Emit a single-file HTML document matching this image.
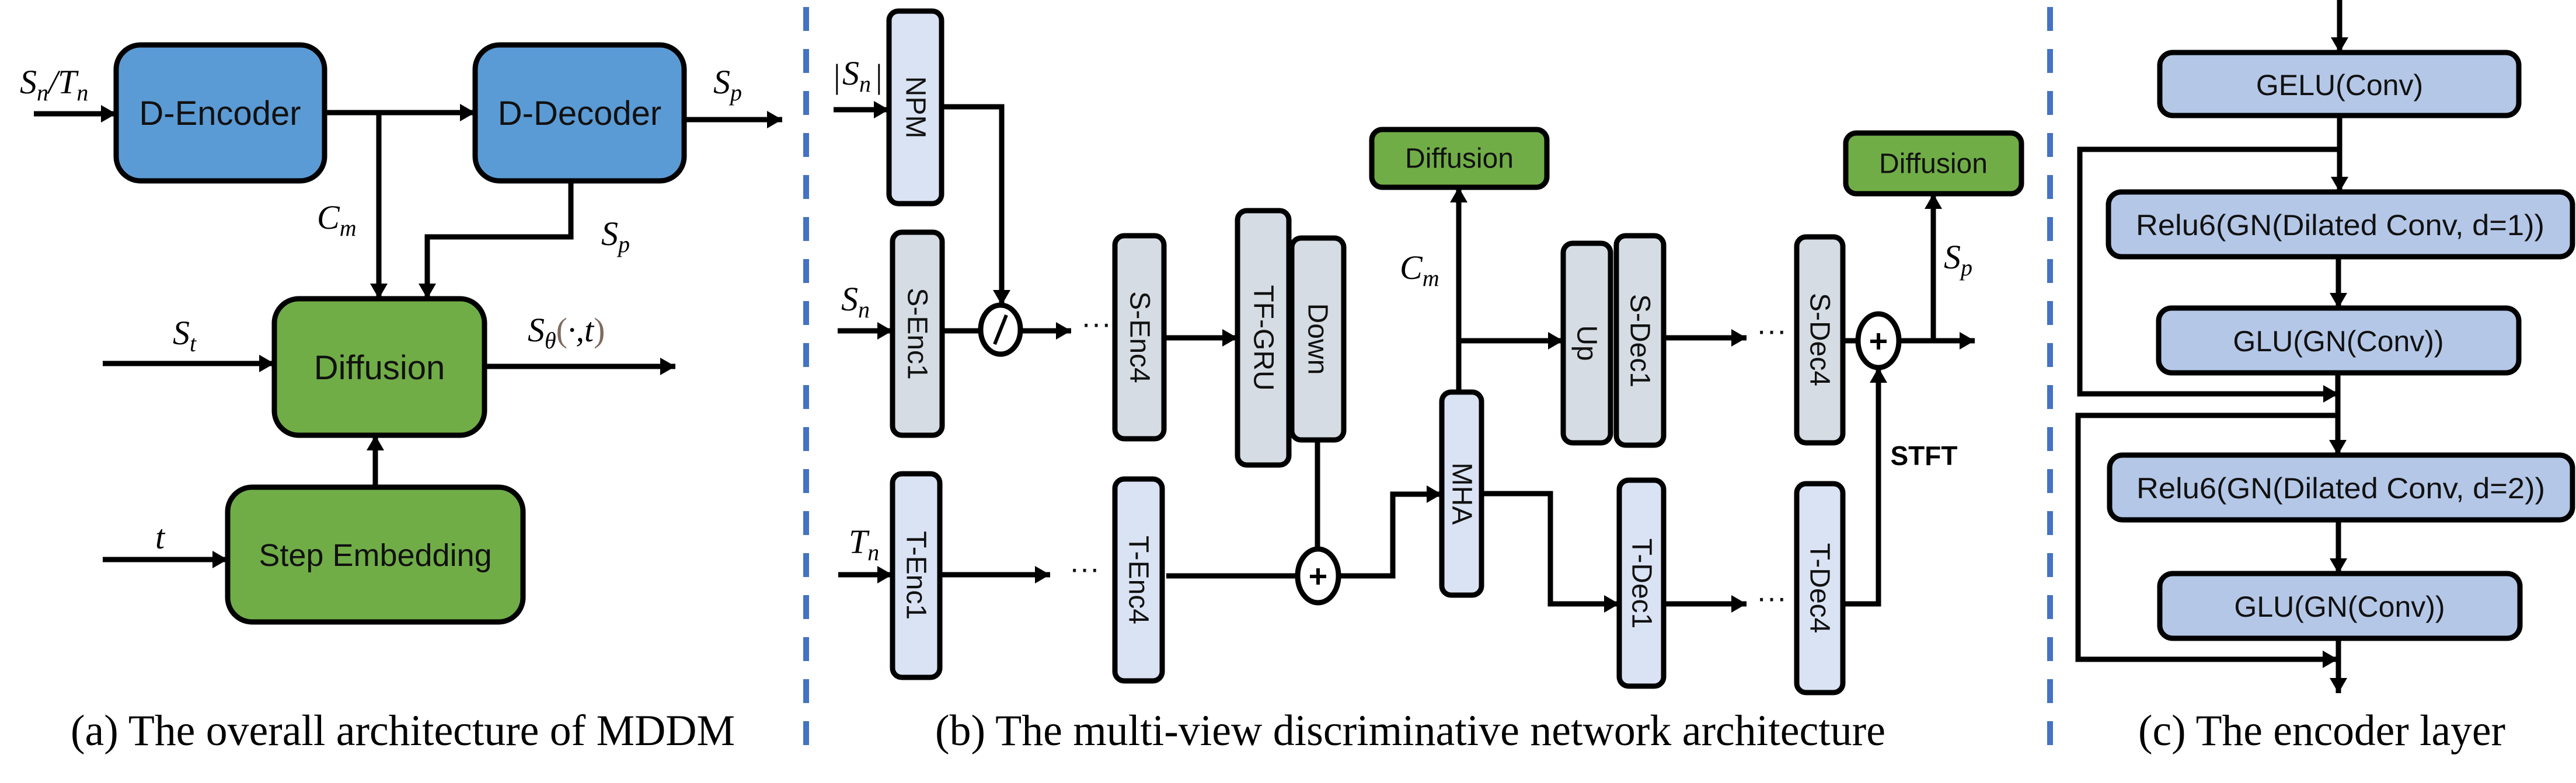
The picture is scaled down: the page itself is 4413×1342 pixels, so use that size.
<!DOCTYPE html>
<html><head><meta charset="utf-8"><style>
html,body{margin:0;padding:0;background:#fff;}
svg{display:block;}
.sans{font-family:"Liberation Sans","DejaVu Sans",sans-serif;}
.math{font-family:"Liberation Serif","DejaVu Serif",serif;font-style:italic;}
.cap{font-family:"Liberation Serif","DejaVu Serif",serif;}
</style></head><body>
<svg width="4413" height="1342" viewBox="0 0 4413 1342" xmlns="http://www.w3.org/2000/svg">
<defs>
<marker id="a" viewBox="0 0 26 30" refX="26" refY="15" markerWidth="26" markerHeight="30" markerUnits="userSpaceOnUse" orient="auto"><path d="M0,0 L26,15 L0,30 z" fill="#000"/></marker>
</defs>
<rect width="4413" height="1342" fill="#fff"/>

<line x1="1381" y1="12" x2="1381" y2="1280" stroke="#4472C4" stroke-width="10" stroke-dasharray="41 31"/>
<line x1="3512" y1="12" x2="3512" y2="1280" stroke="#4472C4" stroke-width="10" stroke-dasharray="41 31"/>

<g stroke="#000" stroke-width="9" fill="none">
<rect x="199" y="77" width="357" height="233" rx="42" fill="#5B9BD5"/>
<rect x="814" y="77" width="358" height="233" rx="42" fill="#5B9BD5"/>
<rect x="470" y="512" width="360" height="234" rx="42" fill="#70AD47"/>
<rect x="390" y="835" width="506" height="231" rx="42" fill="#70AD47"/>
</g>
<g stroke="#000" stroke-width="9" fill="none">
<line x1="58" y1="195" x2="199" y2="195" marker-end="url(#a)"/>
<line x1="556" y1="193" x2="814" y2="193" marker-end="url(#a)"/>
<line x1="649" y1="193" x2="649" y2="512" marker-end="url(#a)"/>
<polyline points="978,310 978,406 732,406 732,512" marker-end="url(#a)"/>
<line x1="1172" y1="205" x2="1340" y2="205" marker-end="url(#a)"/>
<line x1="176" y1="623" x2="470" y2="623" marker-end="url(#a)"/>
<line x1="830" y1="628" x2="1157" y2="628" marker-end="url(#a)"/>
<line x1="176" y1="959" x2="390" y2="959" marker-end="url(#a)"/>
<line x1="643" y1="835" x2="643" y2="746" marker-end="url(#a)"/>
</g>
<g class="sans" font-size="58" text-anchor="middle" fill="#111">
<text x="377" y="214">D-Encoder</text>
<text x="993" y="214">D-Decoder</text>
<text x="650" y="650">Diffusion</text>
<text x="643" y="970" font-size="54">Step Embedding</text>
</g>
<g class="math" font-size="58" fill="#000">
<text x="34" y="160">S<tspan font-size="40" dy="12">n</tspan><tspan dy="-12">/T</tspan><tspan font-size="40" dy="12">n</tspan></text>
<text x="543" y="392">C<tspan font-size="40" dy="12">m</tspan></text>
<text x="1030" y="420">S<tspan font-size="40" dy="12">p</tspan></text>
<text x="1222" y="160">S<tspan font-size="40" dy="12">p</tspan></text>
<text x="296" y="590">S<tspan font-size="40" dy="12">t</tspan></text>
<text x="904" y="585">S<tspan font-size="40" dy="12">θ</tspan><tspan dy="-12" fill="#7f6a5f" font-style="normal">(</tspan><tspan>·,t</tspan><tspan fill="#7f6a5f" font-style="normal">)</tspan></text>
<text x="266" y="940">t</text>
</g>
<text class="cap" x="121" y="1277" font-size="75" textLength="1138" lengthAdjust="spacingAndGlyphs" fill="#000">(a) The overall architecture of MDDM</text>

<g stroke="#000" stroke-width="9">
<rect x="1523" y="19" width="90" height="330" rx="16" fill="#DAE3F3"/>
<rect x="1529" y="398" width="85" height="348" rx="16" fill="#D6DCE4"/>
<rect x="1910" y="404" width="84" height="348" rx="16" fill="#D6DCE4"/>
<rect x="2120" y="361" width="88" height="436" rx="16" fill="#D6DCE4"/>
<rect x="2213" y="408" width="89" height="346" rx="16" fill="#D6DCE4"/>
<rect x="1529" y="812" width="81" height="349" rx="16" fill="#DAE3F3"/>
<rect x="1910" y="821" width="81" height="346" rx="16" fill="#DAE3F3"/>
<rect x="2470" y="672" width="68" height="348" rx="16" fill="#DAE3F3"/>
<rect x="2350" y="222" width="300" height="99" rx="18" fill="#70AD47"/>
<rect x="2678" y="417" width="81" height="342" rx="16" fill="#D6DCE4"/>
<rect x="2769" y="404" width="81" height="359" rx="16" fill="#D6DCE4"/>
<rect x="2774" y="823" width="76" height="353" rx="16" fill="#DAE3F3"/>
<rect x="3078" y="406" width="79" height="353" rx="16" fill="#D6DCE4"/>
<rect x="3078" y="829" width="79" height="358" rx="16" fill="#DAE3F3"/>
<rect x="3162" y="228" width="301" height="104" rx="18" fill="#70AD47"/>
</g>
<g stroke="#000" stroke-width="9" fill="none">
<line x1="1428" y1="188" x2="1523" y2="188" marker-end="url(#a)"/>
<polyline points="1613,183 1716,183 1716,523" marker-end="url(#a)"/>
<line x1="1435" y1="567" x2="1529" y2="567" marker-end="url(#a)"/>
<line x1="1614" y1="567" x2="1679" y2="567"/>
<line x1="1747" y1="567" x2="1835" y2="567" marker-end="url(#a)"/>
<line x1="1994" y1="579" x2="2120" y2="579" marker-end="url(#a)"/>
<line x1="2257" y1="754" x2="2257" y2="941"/>
<line x1="1436" y1="985" x2="1529" y2="985" marker-end="url(#a)"/>
<line x1="1610" y1="985" x2="1799" y2="985" marker-end="url(#a)"/>
<line x1="1998" y1="987" x2="2223" y2="987"/>
<polyline points="2293,987 2386,987 2386,847 2470,847" marker-end="url(#a)"/>
<line x1="2499" y1="672" x2="2499" y2="321" marker-end="url(#a)"/>
<line x1="2499" y1="584" x2="2678" y2="584" marker-end="url(#a)"/>
<polyline points="2538,846 2656,846 2656,1035 2774,1035" marker-end="url(#a)"/>
<line x1="2850" y1="579" x2="2992" y2="579" marker-end="url(#a)"/>
<line x1="2850" y1="1035" x2="2992" y2="1035" marker-end="url(#a)"/>
<line x1="3157" y1="584" x2="3183" y2="584"/>
<line x1="3253" y1="584" x2="3383" y2="584" marker-end="url(#a)"/>
<line x1="3312" y1="584" x2="3312" y2="332" marker-end="url(#a)"/>
<polyline points="3157,1035 3218,1035 3218,630" marker-end="url(#a)"/>
</g>
<g stroke="#000" stroke-width="9" fill="#fff">
<ellipse cx="1714" cy="565" rx="34" ry="42"/>
<ellipse cx="2258" cy="987" rx="35" ry="46"/>
<ellipse cx="3218" cy="584" rx="35" ry="46"/>
</g>
<g stroke="#000" stroke-width="6">
<line x1="1704" y1="590" x2="1724" y2="540"/>
<line x1="2244" y1="988" x2="2272" y2="988"/><line x1="2258" y1="974" x2="2258" y2="1002"/>
<line x1="3204" y1="585" x2="3232" y2="585"/><line x1="3218" y1="571" x2="3218" y2="599"/>
</g>
<g class="sans" font-size="52" fill="#111">
<text x="1852" y="572">···</text>
<text x="1832" y="992">···</text>
<text x="3009" y="584">···</text>
<text x="3009" y="1042">···</text>
</g>
<g class="sans" font-size="48" text-anchor="middle" dominant-baseline="central" fill="#111">
<text transform="translate(1568,184) rotate(90)">NPM</text>
<text transform="translate(1571,572) rotate(90)">S-Enc1</text>
<text transform="translate(1952,578) rotate(90)">S-Enc4</text>
<text transform="translate(2164,579) rotate(90)">TF-GRU</text>
<text transform="translate(2257,581) rotate(90)">Down</text>
<text transform="translate(1569,986) rotate(90)">T-Enc1</text>
<text transform="translate(1950,994) rotate(90)">T-Enc4</text>
<text transform="translate(2504,846) rotate(90)">MHA</text>
<text transform="translate(2718,588) rotate(90)">Up</text>
<text transform="translate(2809,584) rotate(90)">S-Dec1</text>
<text transform="translate(2812,1000) rotate(90)">T-Dec1</text>
<text transform="translate(3117,582) rotate(90)">S-Dec4</text>
<text transform="translate(3117,1008) rotate(90)">T-Dec4</text>
<text x="2500" y="272">Diffusion</text>
<text x="3312" y="281">Diffusion</text>
</g>
<text class="sans" x="3296" y="797" font-size="46" font-weight="bold" text-anchor="middle" fill="#000">STFT</text>
<g class="math" font-size="58" fill="#000">
<text x="1428" y="150" font-style="normal">|</text>
<text x="1443" y="145">S<tspan font-size="40" dy="12">n</tspan></text>
<text x="1500" y="150" font-style="normal">|</text>
<text x="1441" y="532">S<tspan font-size="40" dy="12">n</tspan></text>
<text x="1454" y="948">T<tspan font-size="40" dy="12">n</tspan></text>
<text x="2398" y="478">C<tspan font-size="40" dy="12">m</tspan></text>
<text x="3330" y="460">S<tspan font-size="40" dy="12">p</tspan></text>
</g>
<text class="cap" x="1602" y="1277" font-size="75" textLength="1628" lengthAdjust="spacingAndGlyphs" fill="#000">(b) The multi-view discriminative network architecture</text>

<g stroke="#000" stroke-width="9" fill="#B4C7E7">
<rect x="3700" y="90" width="615" height="108" rx="22"/>
<rect x="3612" y="329" width="795" height="111" rx="22"/>
<rect x="3698" y="528" width="617" height="111" rx="22"/>
<rect x="3614" y="780" width="793" height="111" rx="22"/>
<rect x="3700" y="983" width="617" height="111" rx="22"/>
</g>
<g stroke="#000" stroke-width="9" fill="none">
<line x1="4008" y1="0" x2="4008" y2="90" marker-end="url(#a)"/>
<line x1="4008" y1="198" x2="4008" y2="329" marker-end="url(#a)"/>
<polyline points="4008,256 3563,256 3563,675 4006,675" marker-end="url(#a)"/>
<line x1="4006" y1="440" x2="4006" y2="528" marker-end="url(#a)"/>
<line x1="4005" y1="639" x2="4005" y2="780" marker-end="url(#a)"/>
<polyline points="4005,712 3560,712 3560,1130 4005,1130" marker-end="url(#a)"/>
<line x1="4006" y1="891" x2="4006" y2="983" marker-end="url(#a)"/>
<line x1="4006" y1="1094" x2="4006" y2="1188" marker-end="url(#a)"/>
</g>
<g class="sans" font-size="50" text-anchor="middle" dominant-baseline="central" fill="#111">
<text x="4008" y="146">GELU(Conv)</text>
<text x="4009" y="386" textLength="700" lengthAdjust="spacingAndGlyphs">Relu6(GN(Dilated Conv, d=1))</text>
<text x="4006" y="585">GLU(GN(Conv))</text>
<text x="4010" y="837" textLength="700" lengthAdjust="spacingAndGlyphs">Relu6(GN(Dilated Conv, d=2))</text>
<text x="4008" y="1040">GLU(GN(Conv))</text>
</g>
<text class="cap" x="3663" y="1277" font-size="75" textLength="629" lengthAdjust="spacingAndGlyphs" fill="#000">(c) The encoder layer</text>
</svg>
</body></html>
